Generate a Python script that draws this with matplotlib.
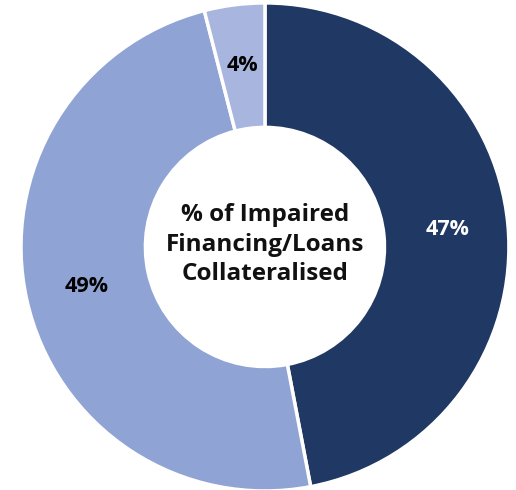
import matplotlib.pyplot as plt

# impaired financing split, drawn clockwise from 12 o'clock
labels = ['Collateralised', 'Uncollateralised', 'Other']
shares = [47, 49, 4]
colors = ['#203864', '#8fa3d4', '#a8b6df']
label_colors = ['white', 'black', 'black']

plt.rcParams['font.family'] = ['Open Sans', 'DejaVu Sans']

fig = plt.figure(figsize=(5.16, 4.9), dpi=100)
ax = fig.add_axes([0, 0, 1, 1])

wedges, texts, autotexts = ax.pie(
    shares, colors=colors, startangle=90, counterclock=False,
    radius=1.0, autopct='%d%%', pctdistance=0.75,
    wedgeprops=dict(width=0.51, edgecolor='white', linewidth=2.5),
)
for t, c in zip(autotexts, label_colors):
    t.set_color(c)
    t.set_fontsize(15.5)
    t.set_fontweight('bold')

ax.text(0, 0.01, '% of Impaired\nFinancing/Loans\nCollateralised',
        ha='center', va='center', fontsize=17.5, fontweight='bold',
        linespacing=1.3, color='#111111')

ax.set_xlim(-1.086, 1.029)
ax.set_ylim(-0.996, 1.012)
ax.set_aspect('auto')
ax.axis('off')

fig.savefig('out.png', dpi=100)
